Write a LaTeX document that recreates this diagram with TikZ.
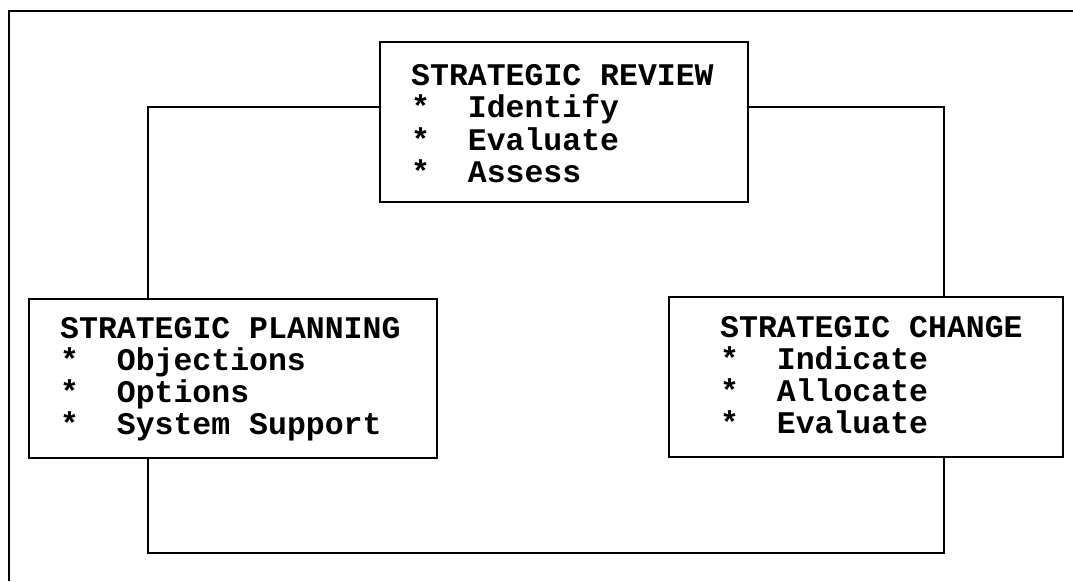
\documentclass[tikz,border=0pt]{standalone}
\usepackage{fontspec}
\setmonofont{Liberation Mono}
\newcommand\itm[1]{\makebox[1.8em][l]{*}#1}
\begin{document}
\begin{tikzpicture}[x=1pt,y=-1pt,
  box/.style={draw,line width=1.7pt,fill=white,inner sep=0pt},
  txt/.style={inner sep=0pt,font=\fontsize{31.5}{31.5}\selectfont\ttfamily\bfseries},
  link/.style={line width=1.6pt},
  frame/.style={line width=2pt}]
\useasboundingbox (0,0) rectangle (1073,581);
% outer frame (top and left visible)
\coordinate (f0) at (9,581);
\coordinate (f1) at (9,11);
\coordinate (f2) at (1073,11);
\draw[frame] (f0) -- (f1) -- (f2);
% boxes
\node[box,minimum width=368pt,minimum height=160pt] (review) at (564,122) {};
\node[box,minimum width=408pt,minimum height=159pt] (planning) at (233,378.5) {};
\node[box,minimum width=394pt,minimum height=160pt] (change) at (866,377) {};
% loop corners
\coordinate (tl) at (148,107);
\coordinate (bl) at (148,553);
\coordinate (br) at (944,553);
\coordinate (tr) at (944,107);
\draw[link] (review.west |- tl) -- (tl) -- (tl |- planning.north);
\draw[link] (tl |- planning.south) -- (bl) -- (br) -- (br |- change.south);
\draw[link] (br |- change.north) -- (tr) -- (review.east |- tr);
% texts
\node[txt,anchor=base west] (reviewtxt) at (411,85)
  {\begin{tabular}[t]{@{}l@{}}STRATEGIC REVIEW\\ \itm{Identify}\\ \itm{Evaluate}\\ \itm{Assess}\end{tabular}};
\node[txt,anchor=base west] (planningtxt) at (60,338)
  {\begin{tabular}[t]{@{}l@{}}STRATEGIC PLANNING\\ \itm{Objections}\\ \itm{Options}\\ \itm{System Support}\end{tabular}};
\node[txt,anchor=base west] (changetxt) at (720,337)
  {\begin{tabular}[t]{@{}l@{}}STRATEGIC CHANGE\\ \itm{Indicate}\\ \itm{Allocate}\\ \itm{Evaluate}\end{tabular}};
\end{tikzpicture}
\end{document}
